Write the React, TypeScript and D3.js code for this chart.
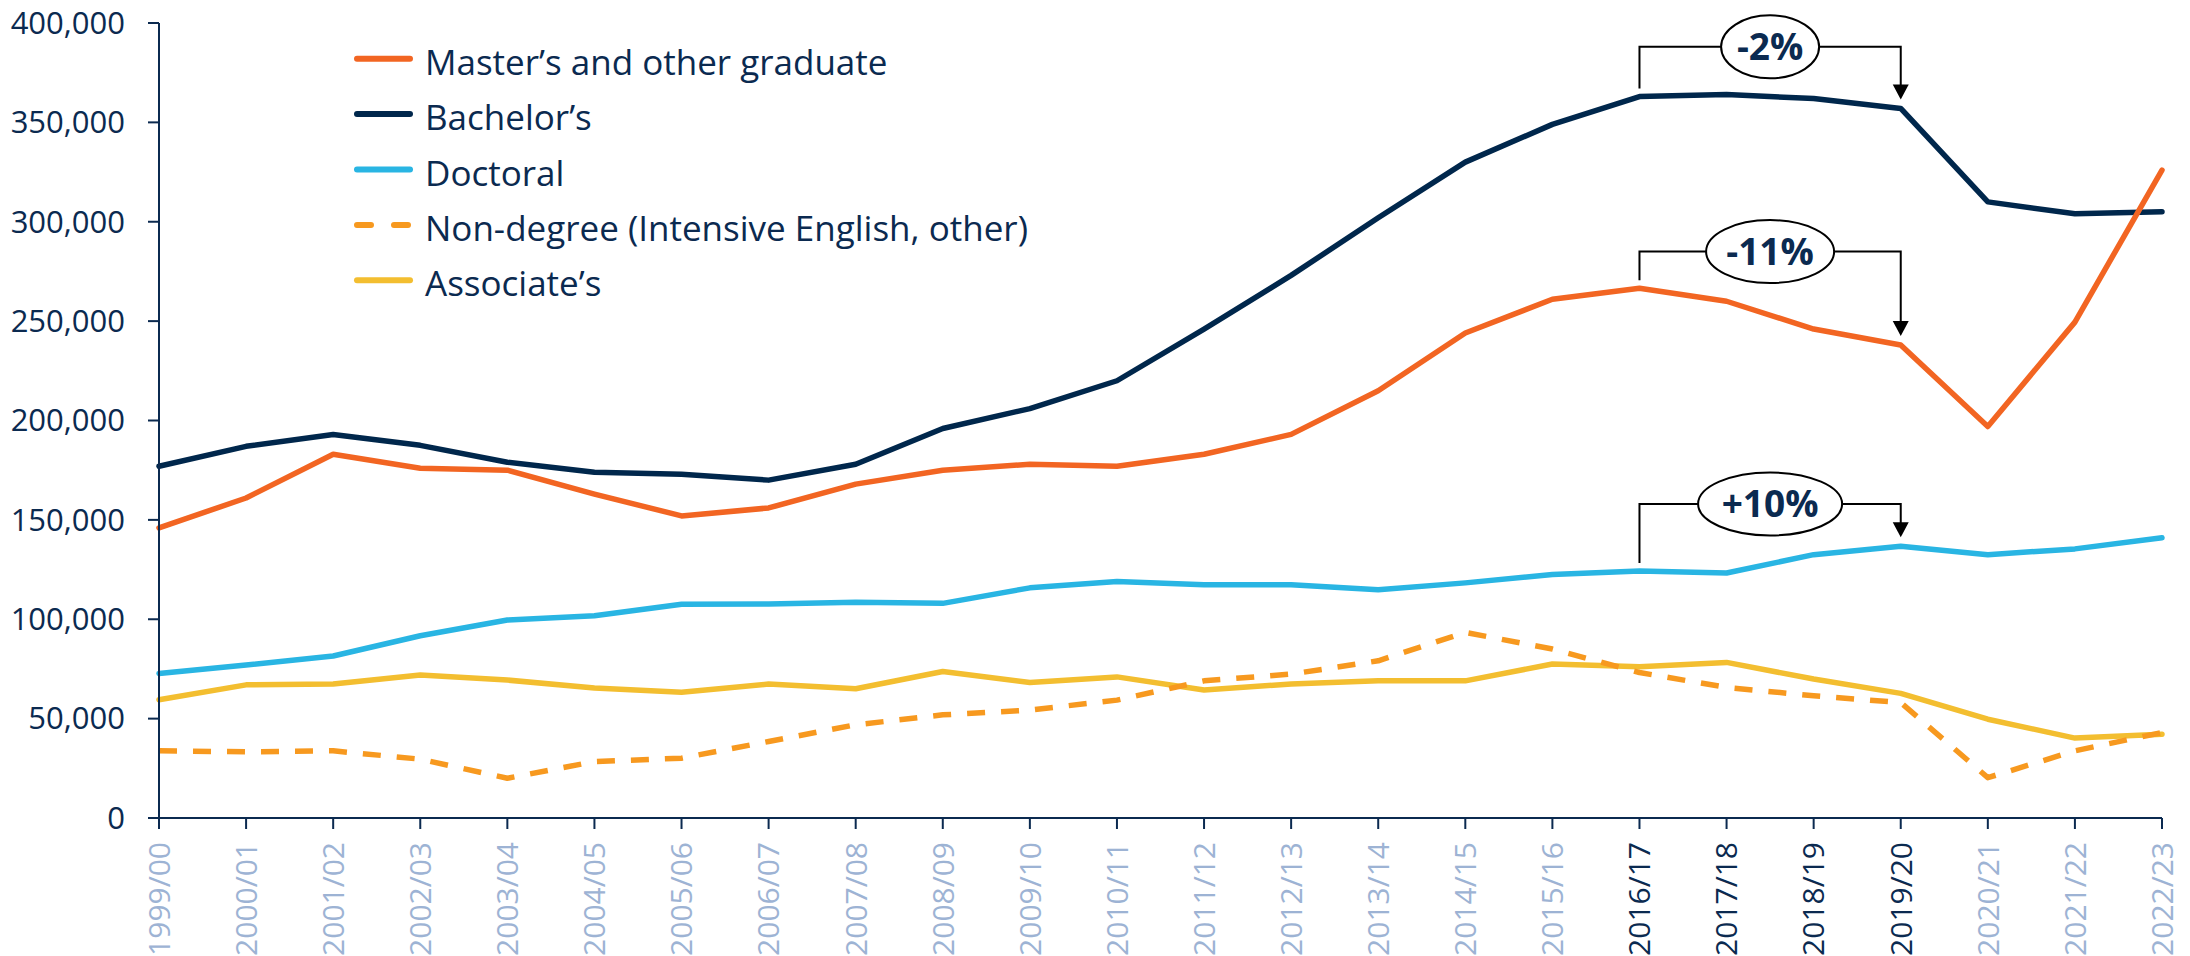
import React from 'react';
import * as d3 from 'd3';

const years = ['1999/00','2000/01','2001/02','2002/03','2003/04','2004/05','2005/06','2006/07','2007/08','2008/09','2009/10','2010/11','2011/12','2012/13','2013/14','2014/15','2015/16','2016/17','2017/18','2018/19','2019/20','2020/21','2021/22','2022/23'];
const highlightedYears = ['2016/17','2017/18','2018/19','2019/20'];

const masters = [146000,161000,183000,176000,175000,163000,152000,156000,168000,175000,178000,177000,183000,193000,215000,244000,261000,266500,260000,246000,238000,197000,249500,326000];
const bachelors = [177000,187000,193000,187500,179000,174000,173000,170000,178000,196000,206000,220000,246000,273000,302000,330000,349000,363000,364000,362000,357000,310000,304000,305000];
const doctoral = [72700,77000,81500,91700,99600,101800,107500,107700,108500,108000,115800,119000,117300,117300,114800,118300,122500,124300,123300,132500,136700,132500,135400,141000];
const nonDegree = [33800,33300,33800,29600,20000,28400,30100,38500,46900,51900,54300,59300,69000,72400,79100,93400,85000,73200,65700,61500,58100,20300,33800,43000];
const associates = [59500,67000,67400,71900,69400,65400,63300,67400,65000,73700,68200,71000,64400,67400,69000,69000,77500,76100,78300,69900,62700,49700,40200,42200];

const yTicks = [0,50000,100000,150000,200000,250000,300000,350000,400000];

const seriesNames = ['Master\u2019s and other graduate','Bachelor\u2019s','Doctoral','Non-degree (Intensive English, other)','Associate\u2019s'];
const seriesColors = ['#F26522','#00274C','#29B5E3','#F7991F','#F3BE30'];
const seriesDashed = [false,false,false,true,false];
const seriesValues = [masters,bachelors,doctoral,nonDegree,associates];
const drawOrder = [4,3,2,1,0];

const annLabels = ['-2%','-11%','+10%'];
const annSeries = [1,0,2];
const annFrom = ['2016/17','2016/17','2016/17'];
const annTo = ['2019/20','2019/20','2019/20'];
const annBarValue = [388000,285000,158000];
const annRx = [49,64,72];

const W = 2190, H = 956;
const NAVY = '#0B2A50';
const FONT = '"Open Sans", sans-serif';

export default function App() {
  const x = d3.scalePoint<string>().domain(years).range([159, 2162]);
  const y = d3.scaleLinear().domain([0, 400000]).range([818, 23]);
  const line = d3.line<number>().x((_, i) => x(years[i]) as number).y(d => y(d));
  const fmt = d3.format(',');

  return (
    <svg width={W} height={H} style={{ position: 'absolute', left: 0, top: 0, background: '#fff' }} fontFamily={FONT}>
      {drawOrder.map(si => (
        <path key={si} d={line(seriesValues[si]) || ''} fill="none" stroke={seriesColors[si]} strokeWidth={5.5}
          strokeLinejoin="round" strokeLinecap={seriesDashed[si] ? 'butt' : 'round'}
          strokeDasharray={seriesDashed[si] ? '18 16' : undefined} />
      ))}

      <line x1={159} x2={159} y1={y(400000)} y2={y(0)} stroke={NAVY} strokeWidth={2} />
      {yTicks.map(t => (
        <g key={t}>
          <line x1={148} x2={159} y1={y(t)} y2={y(t)} stroke={NAVY} strokeWidth={2} />
          <text x={125} y={y(t)} dy="0.35em" textAnchor="end" fontSize={31} fill={NAVY}>{fmt(t)}</text>
        </g>
      ))}

      <line x1={148} x2={x(years[years.length - 1])} y1={y(0)} y2={y(0)} stroke={NAVY} strokeWidth={2} />
      {years.map(yr => {
        const px = x(yr) as number;
        const hl = highlightedYears.includes(yr);
        return (
          <g key={yr}>
            <line x1={px} x2={px} y1={y(0)} y2={y(0) + 11} stroke={NAVY} strokeWidth={2} />
            <text transform={`translate(${px},${y(0) + 24}) rotate(-90)`} textAnchor="end" dy="0.36em"
              fontSize={30} fill={hl ? NAVY : '#9DB3D4'}>{yr}</text>
          </g>
        );
      })}

      {annLabels.map((lab, i) => {
        const vals = seriesValues[annSeries[i]];
        const x1 = x(annFrom[i]) as number;
        const x2 = x(annTo[i]) as number;
        const yFrom = y(vals[years.indexOf(annFrom[i])]) - 8;
        const yTo = y(vals[years.indexOf(annTo[i])]) - 9;
        const yb = y(annBarValue[i]);
        const cx = (x1 + x2) / 2;
        return (
          <g key={lab}>
            <path d={`M${x1},${yFrom}V${yb}H${x2}V${yTo - 14}`} fill="none" stroke="#000" strokeWidth={2} />
            <path d={`M${x2 - 8},${yTo - 15}L${x2 + 8},${yTo - 15}L${x2},${yTo}Z`} fill="#000" />
            <ellipse cx={cx} cy={yb} rx={annRx[i]} ry={31.5} fill="#fff" stroke="#000" strokeWidth={2} />
            <text x={cx} y={yb} dy="0.36em" textAnchor="middle" fontSize={37} fontWeight={700} fill={NAVY}>{lab}</text>
          </g>
        );
      })}

      {seriesNames.map((nm, i) => {
        const ly = 58.7 + i * 55.4;
        return (
          <g key={nm}>
            <line x1={357} x2={410} y1={ly} y2={ly} stroke={seriesColors[i]} strokeWidth={6} strokeLinecap="round"
              strokeDasharray={seriesDashed[i] ? '14 23' : undefined} />
            <text x={425} y={ly + 16} fontSize={35} fill={NAVY}>{nm}</text>
          </g>
        );
      })}
    </svg>
  );
}
